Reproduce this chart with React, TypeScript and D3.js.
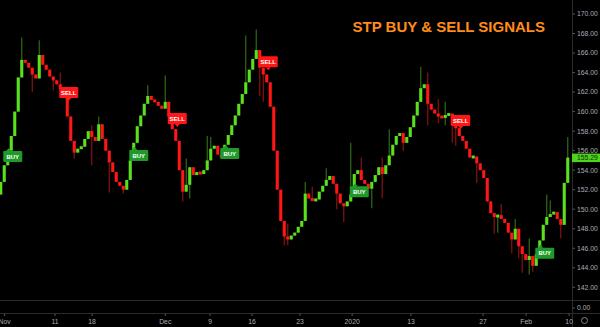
import React from "react";
import * as d3 from "d3";

const W = 600;
const H = 327;

const firstOpen = 151.5;
const closes = [
  152.8, 154.5, 156.0, 157.5, 160.0, 163.5, 165.3, 165.0, 164.5, 163.8,
  163.4, 165.8, 164.8, 164.3, 163.6, 163.2, 162.8, 162.3, 161.8, 159.5,
  157.0, 155.8, 156.2, 156.4, 157.2, 158.0, 157.4, 157.0, 158.7, 157.2,
  156.0, 154.8, 153.8, 152.8, 152.4, 152.0, 153.0, 155.0, 156.8, 158.5,
  159.6, 160.8, 161.6, 161.2, 161.0, 160.6, 160.3, 161.0, 159.5, 158.2,
  157.0, 154.0, 151.8, 152.5, 154.3, 153.5, 153.8, 153.6, 154.0, 155.0,
  156.2, 156.5, 155.6, 155.3, 156.6, 157.6, 158.6, 159.6, 160.8, 161.8,
  163.0, 164.3, 165.4, 166.3, 164.5, 163.8, 163.0, 160.5, 156.0, 152.0,
  148.8, 147.2, 146.9, 147.3, 147.6, 148.2, 148.8, 151.6, 151.1, 150.9,
  151.0, 151.8, 152.4, 153.0, 153.4, 152.6, 151.6, 150.6, 150.3, 150.8,
  151.5, 153.6, 154.0, 153.0, 152.6, 152.1, 152.8, 153.5, 154.3, 153.6,
  154.5, 155.5, 156.6, 157.5, 157.8, 156.8, 157.4, 158.4, 159.6, 161.0,
  162.4, 162.8, 160.8, 160.2, 159.8, 159.5, 159.4, 159.6, 159.8, 158.6,
  158.3, 157.5, 157.0, 156.2, 155.3, 155.4, 154.7, 154.0, 153.2, 150.8,
  149.6, 149.2, 149.4, 149.0, 148.6, 147.6, 146.9, 148.0, 146.2, 145.4,
  144.8, 145.2, 144.2, 145.4, 146.8, 148.4, 149.2, 149.5, 149.7, 149.0,
  148.4, 152.7, 155.29,
];

// [candle index, wick price]
const wickHighs: [number, number][] = [
  [6, 167.6], [11, 167.3], [17, 164.0], [26, 158.6], [28, 159.5], [42, 162.7],
  [47, 163.7], [53, 155.2], [59, 157.5], [60, 157.4], [70, 167.8], [73, 168.4],
  [82, 148.5], [87, 152.8], [89, 152.3], [93, 154.2], [100, 156.8], [103, 155.3],
  [109, 155.3], [111, 158.2], [120, 164.6], [122, 164.0], [125, 161.3],
  [127, 161.0], [143, 150.5], [147, 149.0], [151, 147.0], [156, 151.5],
  [157, 150.9], [162, 157.4],
];
const wickLows: [number, number][] = [
  [9, 162.0], [15, 162.2], [21, 155.2], [26, 154.5], [31, 151.7], [35, 151.6],
  [52, 150.8], [54, 151.1], [74, 161.6], [75, 161.0], [81, 146.3], [82, 146.3],
  [96, 150.0], [98, 148.7], [106, 150.1], [109, 151.1], [115, 156.0],
  [122, 158.6], [125, 158.8], [127, 158.6], [129, 156.8], [130, 156.5],
  [136, 152.7], [141, 147.5], [142, 147.6], [146, 145.5], [148, 145.0],
  [149, 143.5], [151, 143.3], [152, 143.6], [160, 147.0],
];

// signals: candle index of label's left edge, type, price at label centre
const signalIdx = [1, 17, 37, 48, 63, 74, 100, 129, 153];
const signalType = ["BUY", "SELL", "BUY", "SELL", "BUY", "SELL", "BUY", "SELL", "BUY"];
const signalPrice = [155.4, 161.95, 155.5, 159.3, 155.7, 165.1, 151.8, 159.1, 145.5];

const priceTicks = [170, 168, 166, 164, 162, 160, 158, 156, 154, 152, 150, 148, 146, 144, 142];
const timeLabels = ["Nov", "11", "18", "Dec", "9", "16", "23", "2020", "13", "27", "Feb", "10"];
const timeIdx = [1.1, 15.5, 26.1, 47, 59.8, 71.8, 85.5, 100.4, 117.2, 137.8, 150.1, 162.4];

const title = "STP BUY & SELL SIGNALS";
const lastPrice = 155.29;

const GREEN = "#5ae11c";
const RED = "#ff1616";
const GREEN_WICK = "#2f6b12";
const RED_WICK = "#8a1212";
const AXIS = "#2b2b2b";
const TXT = "#a9acb3";
const FONT = "'Liberation Sans', Arial, sans-serif";

export default function App() {
  const x = d3.scaleLinear().domain([0, closes.length - 1]).range([0.75, 567.75]);
  const y = d3.scaleLinear().domain([142, 170]).range([287.3, 14]);
  const hiMap = new Map(wickHighs);
  const loMap = new Map(wickLows);
  const bw = 3.1;

  const candles = closes.map((c, i) => {
    const o = i === 0 ? firstOpen : closes[i - 1];
    const up = c >= o;
    const hi = Math.max(o, c, hiMap.get(i) ?? -Infinity);
    const lo = Math.min(o, c, loMap.get(i) ?? Infinity);
    return { i, o, c, up, hi, lo };
  });

  return (
    <svg
      width={W}
      height={H}
      style={{ position: "absolute", left: 0, top: 0, display: "block", background: "#000" }}
    >
      <rect x={0} y={0} width={W} height={H} fill="#000" />
      {/* wicks */}
      {candles.map((d) => (
        <line
          key={"w" + d.i}
          x1={x(d.i)}
          x2={x(d.i)}
          y1={y(d.hi)}
          y2={y(d.lo)}
          stroke={d.up ? GREEN_WICK : RED_WICK}
          strokeWidth={1.2}
        />
      ))}
      {/* bodies */}
      {candles.map((d) => {
        const h0 = Math.abs(y(d.o) - y(d.c));
        const h = Math.max(3, h0);
        const top = Math.min(y(d.o), y(d.c)) - (h - h0) / 2;
        return (
          <rect
            key={"b" + d.i}
            x={x(d.i) - bw / 2}
            y={top}
            width={bw}
            height={h}
            fill={d.up ? GREEN : RED}
          />
        );
      })}
      {/* signal labels */}
      {signalIdx.map((si, k) => {
        const isBuy = signalType[k] === "BUY";
        const lx = x(si) - 1;
        const cy = y(signalPrice[k]);
        const bwl = 19;
        const bh = 11;
        const col = isBuy ? "#1f9a2a" : RED;
        const tri = isBuy
          ? `M${lx + 3},${cy - bh / 2} L${lx + 5.5},${cy - bh / 2 - 3} L${lx + 8},${cy - bh / 2} Z`
          : `M${lx + 7},${cy + bh / 2} L${lx + 9.5},${cy + bh / 2 + 3} L${lx + 12},${cy + bh / 2} Z`;
        return (
          <g key={"s" + k}>
            <rect x={lx} y={cy - bh / 2} width={bwl} height={bh} rx={1} fill={col} />
            <path d={tri} fill={col} />
            <text
              x={lx + bwl / 2}
              y={cy + 2.2}
              textAnchor="middle"
              fontFamily={FONT}
              fontSize={6}
              fontWeight="bold"
              fill="#fff"
            >
              {signalType[k]}
            </text>
          </g>
        );
      })}
      {/* title */}
      <text
        x={352.5}
        y={31.5}
        fontFamily={FONT}
        fontSize={15}
        fontWeight="bold"
        fill="#ff8c1a"
      >
        {title}
      </text>
      {/* axes frame */}
      <line x1={572.5} x2={572.5} y1={0} y2={H} stroke={AXIS} />
      <line x1={0} x2={W} y1={300.5} y2={300.5} stroke={AXIS} />
      <line x1={0} x2={W} y1={313.5} y2={313.5} stroke={AXIS} />
      {/* price axis */}
      {priceTicks.map((p) => (
        <g key={"p" + p}>
          <line x1={572.5} x2={575} y1={y(p)} y2={y(p)} stroke="#555" />
          <text
            x={577}
            y={y(p) + 2.4}
            fontFamily={FONT}
            fontSize={6.8}
            fill={TXT}
          >
            {p.toFixed(2)}
          </text>
        </g>
      ))}
      <line x1={572.5} x2={575} y1={308} y2={308} stroke="#555" />
      <text x={577} y={310.4} fontFamily={FONT} fontSize={6.8} fill={TXT}>
        0.00
      </text>
      {/* last price marker */}
      <rect x={572} y={y(lastPrice) - 4} width={28} height={8.5} fill="#4fd21a" />
      <text
        x={577}
        y={y(lastPrice) + 2.6}
        fontFamily={FONT}
        fontSize={6.8}
        fill="#0d2a08"
      >
        {lastPrice.toFixed(2)}
      </text>
      {/* time axis */}
      {timeLabels.map((t, k) => (
        <g key={"t" + k}>
          <line x1={x(timeIdx[k])} x2={x(timeIdx[k])} y1={313.5} y2={316} stroke="#555" />
          <text
            x={x(timeIdx[k])}
            y={324}
            textAnchor="middle"
            fontFamily={FONT}
            fontSize={6.8}
            fill={TXT}
          >
            {t}
          </text>
        </g>
      ))}
      <circle cx={584.5} cy={320.5} r={3} fill="none" stroke="#8a8d94" strokeWidth={0.9} />
    </svg>
  );
}
